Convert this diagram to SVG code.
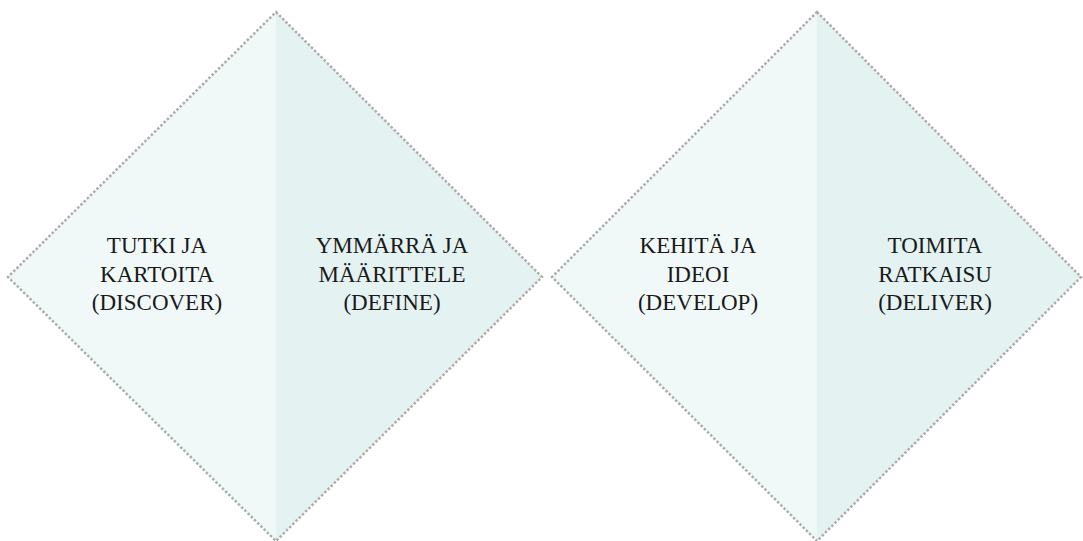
<svg xmlns="http://www.w3.org/2000/svg" width="1083" height="541" viewBox="0 0 1083 541">
  <style>
    .lf { fill: #f1f9f8; }
    .rf { fill: #e4f3f1; }
    .edge { fill: none; stroke: #adadad; stroke-width: 2.5; stroke-dasharray: 2.5 2; }
    .lbl { font-family: "Liberation Serif", "DejaVu Serif", serif; font-size: 23px; fill: #1a1a1a; text-anchor: middle; }
  </style>
  <rect width="1083" height="541" fill="#ffffff"/>
  <g id="diamond-1">
    <polygon class="lf" points="276,12 8,277 276,541"/>
    <polygon class="rf" points="276,12 542,277 276,541"/>
    <polygon class="edge" points="276,12 542,277 276,541 8,277"/>
  </g>
  <g id="diamond-2">
    <polygon class="lf" points="817,12 552,277 817,541"/>
    <polygon class="rf" points="817,12 1081,277 817,541"/>
    <polygon class="edge" points="817,12 1081,277 817,541 552,277"/>
  </g>
  <g id="discover">
    <text class="lbl" x="157" y="253">TUTKI JA</text>
    <text class="lbl" x="157" y="282">KARTOITA</text>
    <text class="lbl" x="157" y="310">(DISCOVER)</text>
  </g>
  <g id="define">
    <text class="lbl" x="392" y="253">YMMÄRRÄ JA</text>
    <text class="lbl" x="392" y="282">MÄÄRITTELE</text>
    <text class="lbl" x="392" y="310">(DEFINE)</text>
  </g>
  <g id="develop">
    <text class="lbl" x="698" y="253">KEHITÄ JA</text>
    <text class="lbl" x="698" y="282">IDEOI</text>
    <text class="lbl" x="698" y="310">(DEVELOP)</text>
  </g>
  <g id="deliver">
    <text class="lbl" x="935" y="253">TOIMITA</text>
    <text class="lbl" x="935" y="282">RATKAISU</text>
    <text class="lbl" x="935" y="310">(DELIVER)</text>
  </g>
  <g id="connectors"></g>
</svg>
